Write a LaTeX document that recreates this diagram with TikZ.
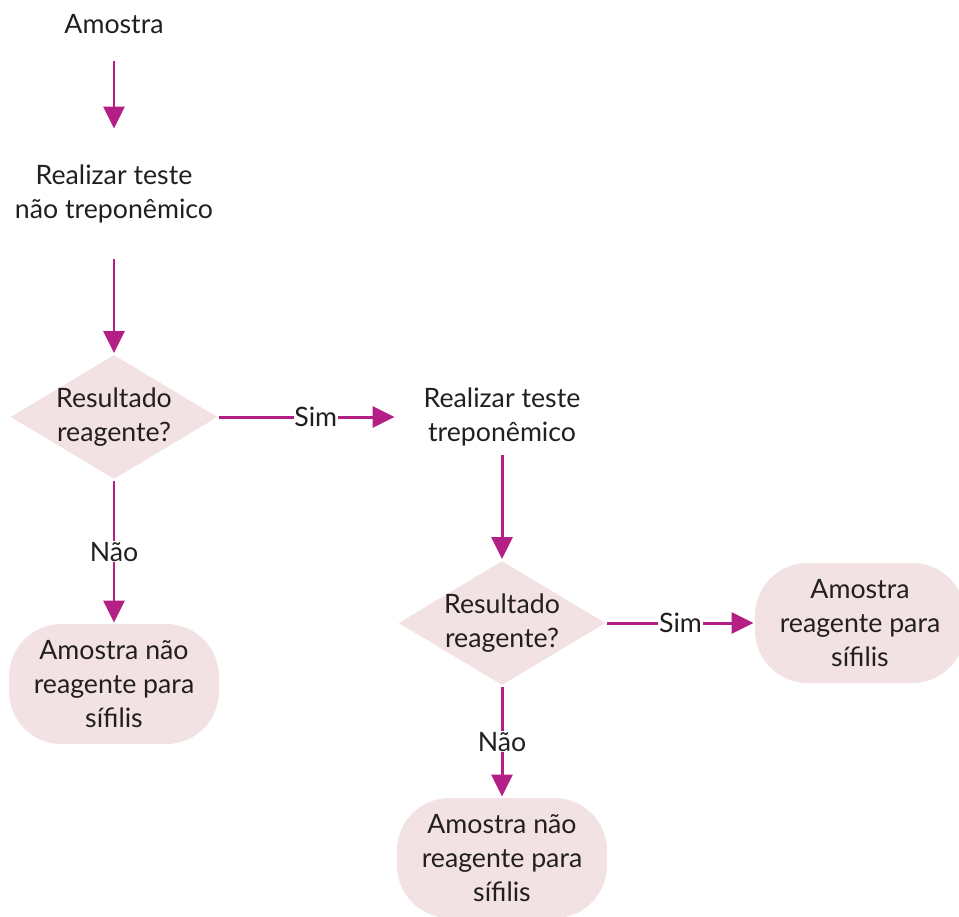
\documentclass[tikz,border=0pt]{standalone}
\usepackage{fontspec}
\setmainfont{Lato}
\usetikzlibrary{arrows.meta,shapes.geometric}
\definecolor{roxo}{HTML}{B41F85}
\definecolor{rosa}{HTML}{F3E2E3}
\definecolor{texto}{HTML}{231F20}

\begin{document}
\begin{tikzpicture}[x=0.02cm,y=-0.02cm,line width=1.7pt,
    font=\fontsize{15.2}{19.3}\selectfont,text=texto,
    fluxo/.style={draw=roxo,-{Triangle[length=0.44cm,width=0.42cm]}},
    caixa/.style={align=center,inner sep=0pt},
    decisao/.style={diamond,fill=rosa,inner sep=0pt,minimum width=4.16cm,minimum height=2.5cm},
    final/.style={rectangle,rounded corners=1.05cm,fill=rosa,align=center,minimum width=4.2cm,minimum height=2.4cm},
    rotulo/.style={fill=white,inner sep=0.5pt}]
  \useasboundingbox (0,0) rectangle (959,916);

  % etapas
  \node[caixa,minimum height=1.44cm] (amostra) at (114,24) {Amostra};
  \node[caixa,minimum height=2.56cm] (naotrep) at (114,194) {Realizar teste\\não treponêmico};
  \node[caixa,minimum width=4.24cm,minimum height=1.48cm] (trep) at (502,417) {Realizar teste\\treponêmico};

  % decisões
  \node[decisao] (res1) at (114,417) {};
  \node[caixa] (res1txt) at (res1) {Resultado\\reagente?};
  \node[decisao] (res2) at (502,623) {};
  \node[caixa] (res2txt) at (res2) {Resultado\\reagente?};

  % resultados finais
  \node[final] (neg1) at (114,684) {Amostra não\\reagente para\\sífilis};
  \node[final] (pos) at (860,623) {Amostra\\reagente para\\sífilis};
  \node[final] (neg2) at (502,858) {Amostra não\\reagente para\\sífilis};

  % setas
  \draw[fluxo] (amostra) -- (naotrep);
  \draw[fluxo] (naotrep) -- (res1);
  \draw[fluxo] (res1) -- node[rotulo,pos=0.55] {Sim} (trep);
  \draw[fluxo] (res1) -- node[rotulo] {Não} (neg1);
  \draw[fluxo] (trep) -- (res2);
  \draw[fluxo] (res2) -- node[rotulo] {Sim} (pos);
  \draw[fluxo] (res2) -- node[rotulo] {Não} (neg2);
\end{tikzpicture}
\end{document}
